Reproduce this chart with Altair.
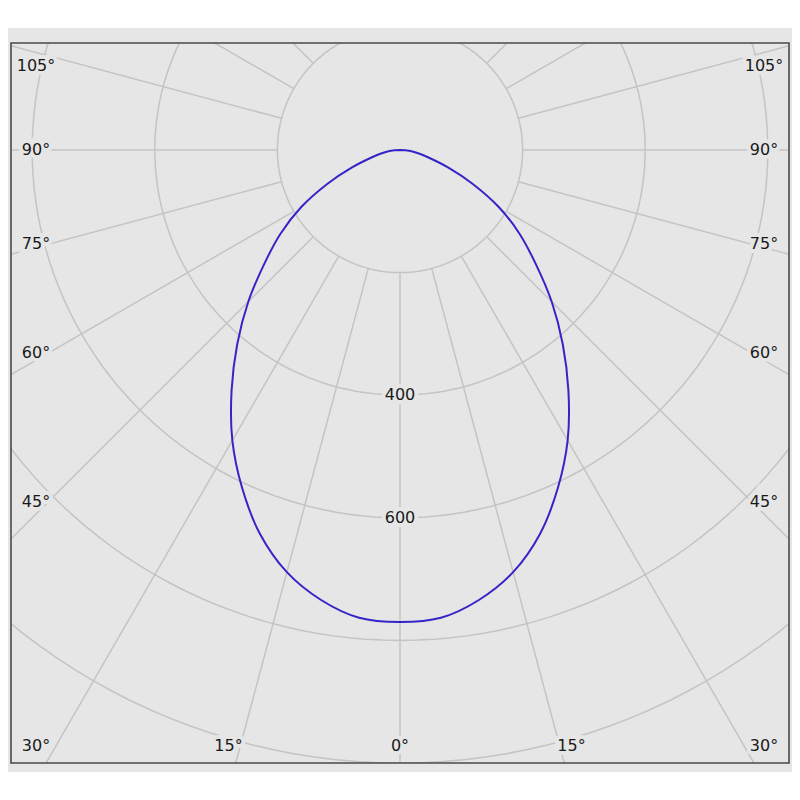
import altair as alt
import numpy as np
import pandas as pd

# ---- data ----
angles = [0, 5, 10, 15, 20, 25, 30, 35, 40, 45, 50, 55, 60, 65, 70, 75, 80, 85, 90]
intensity = [770, 766, 745, 713, 667, 609, 547, 479, 413, 350, 289, 238, 186, 131, 84, 49, 30, 15, 0]
ring_values = [200, 400, 600, 800, 1000]
ring_label_values = [400, 600]
spoke_angles = list(range(0, 360, 15))
angle_label_values = [0, 15, 30, 45, 60, 75, 90, 105]

# ---- geometry helpers (layout only) ----
PX2U = 200 / 122.6          # data units per pixel
W, H = 778, 720
XR = (W / 2) * PX2U
Y_TOP = 107 * PX2U
Y_BOT = -613 * PX2U

xs = alt.Scale(domain=[-XR, XR], nice=False, zero=False)
ys = alt.Scale(domain=[Y_BOT, Y_TOP], nice=False, zero=False)

# curve (symmetric)
rows = []
order = 0
for a, r in zip(angles[::-1], intensity[::-1]):
    t = np.radians(a)
    rows.append({"x": -r * np.sin(t), "y": -r * np.cos(t), "o": order}); order += 1
for a, r in zip(angles[1:], intensity[1:]):
    t = np.radians(a)
    rows.append({"x": r * np.sin(t), "y": -r * np.cos(t), "o": order}); order += 1
curve_df = pd.DataFrame(rows)

# rings
ring_rows = []
for R in ring_values:
    for k, t in enumerate(np.radians(np.arange(0, 361, 2))):
        ring_rows.append({"x": R * np.sin(t), "y": -R * np.cos(t), "R": R, "o": k})
ring_df = pd.DataFrame(ring_rows)

# spokes
sp_rows = []
for a in spoke_angles:
    t = np.radians(a)
    sp_rows.append({"x": 200 * np.sin(t), "y": -200 * np.cos(t),
                    "x2": 1800 * np.sin(t), "y2": -1800 * np.cos(t)})
spoke_df = pd.DataFrame(sp_rows)

# angle labels
lab_rows = []
for a in angle_label_values:
    t = np.radians(a)
    s, c = np.sin(t), np.cos(t)
    xo = 364 if c <= 1e-9 else min(640 * s / c, 364)
    k = 352 if c >= 0 else 315
    yo = 596 if s < 1e-9 else min(k * c / s, 596)
    sides = [1] if a == 0 else [-1, 1]
    for sd in sides:
        lab_rows.append({"x": sd * xo * PX2U, "y": -yo * PX2U, "t": f"{a}°"})
alab_df = pd.DataFrame(lab_rows)

rlab_df = pd.DataFrame({"x": [0] * len(ring_label_values),
                        "y": [-v for v in ring_label_values],
                        "t": [str(v) for v in ring_label_values]})

BG = "#e6e6e6"
GRID = "#c4c4c4"
FONT = "DejaVu Sans"
FS = 16

outer = alt.Chart(pd.DataFrame({"k": [0]})).mark_rect(color=BG, clip=False).encode(
    x=alt.value(-3), x2=alt.value(W + 3), y=alt.value(-15), y2=alt.value(H + 9))

frame = alt.Chart(pd.DataFrame({"k": [0]})).mark_rect(
    filled=False, stroke="#4a4a4a", strokeWidth=1.6, clip=False).encode(
    x=alt.value(0), x2=alt.value(W), y=alt.value(0), y2=alt.value(H))

rings = alt.Chart(ring_df).mark_line(color=GRID, strokeWidth=1.5, clip=True).encode(
    x=alt.X("x:Q", scale=xs, axis=None),
    y=alt.Y("y:Q", scale=ys, axis=None),
    detail="R:N", order="o:Q")

spokes = alt.Chart(spoke_df).mark_rule(color=GRID, strokeWidth=1.5, clip=True).encode(
    x=alt.X("x:Q", scale=xs, axis=None), y=alt.Y("y:Q", scale=ys, axis=None),
    x2="x2:Q", y2="y2:Q")

def labels(df):
    halo = alt.Chart(df).mark_text(font=FONT, fontSize=FS, color=BG, stroke=BG,
                                   strokeWidth=8, align="center", baseline="middle").encode(
        x=alt.X("x:Q", scale=xs, axis=None), y=alt.Y("y:Q", scale=ys, axis=None), text="t:N")
    txt = alt.Chart(df).mark_text(font=FONT, fontSize=FS, color="#1a1a1a",
                                  align="center", baseline="middle").encode(
        x=alt.X("x:Q", scale=xs, axis=None), y=alt.Y("y:Q", scale=ys, axis=None), text="t:N")
    return halo, txt

ah, at = labels(alab_df)
rh, rt = labels(rlab_df)

curve = alt.Chart(curve_df).mark_line(color="#3624c8", strokeWidth=2,
                                      interpolate="catmull-rom", clip=True).encode(
    x=alt.X("x:Q", scale=xs, axis=None), y=alt.Y("y:Q", scale=ys, axis=None), order="o:Q")

chart = alt.layer(outer, rings, spokes, ah, rh, at, rt, curve, frame).properties(
    width=W, height=H, autosize="none",
    padding={"left": 3, "top": 35, "right": 3, "bottom": 15},
).configure_view(fill=BG, stroke=None)

chart.save("out.html", embed_options={"renderer": "svg", "actions": False})
